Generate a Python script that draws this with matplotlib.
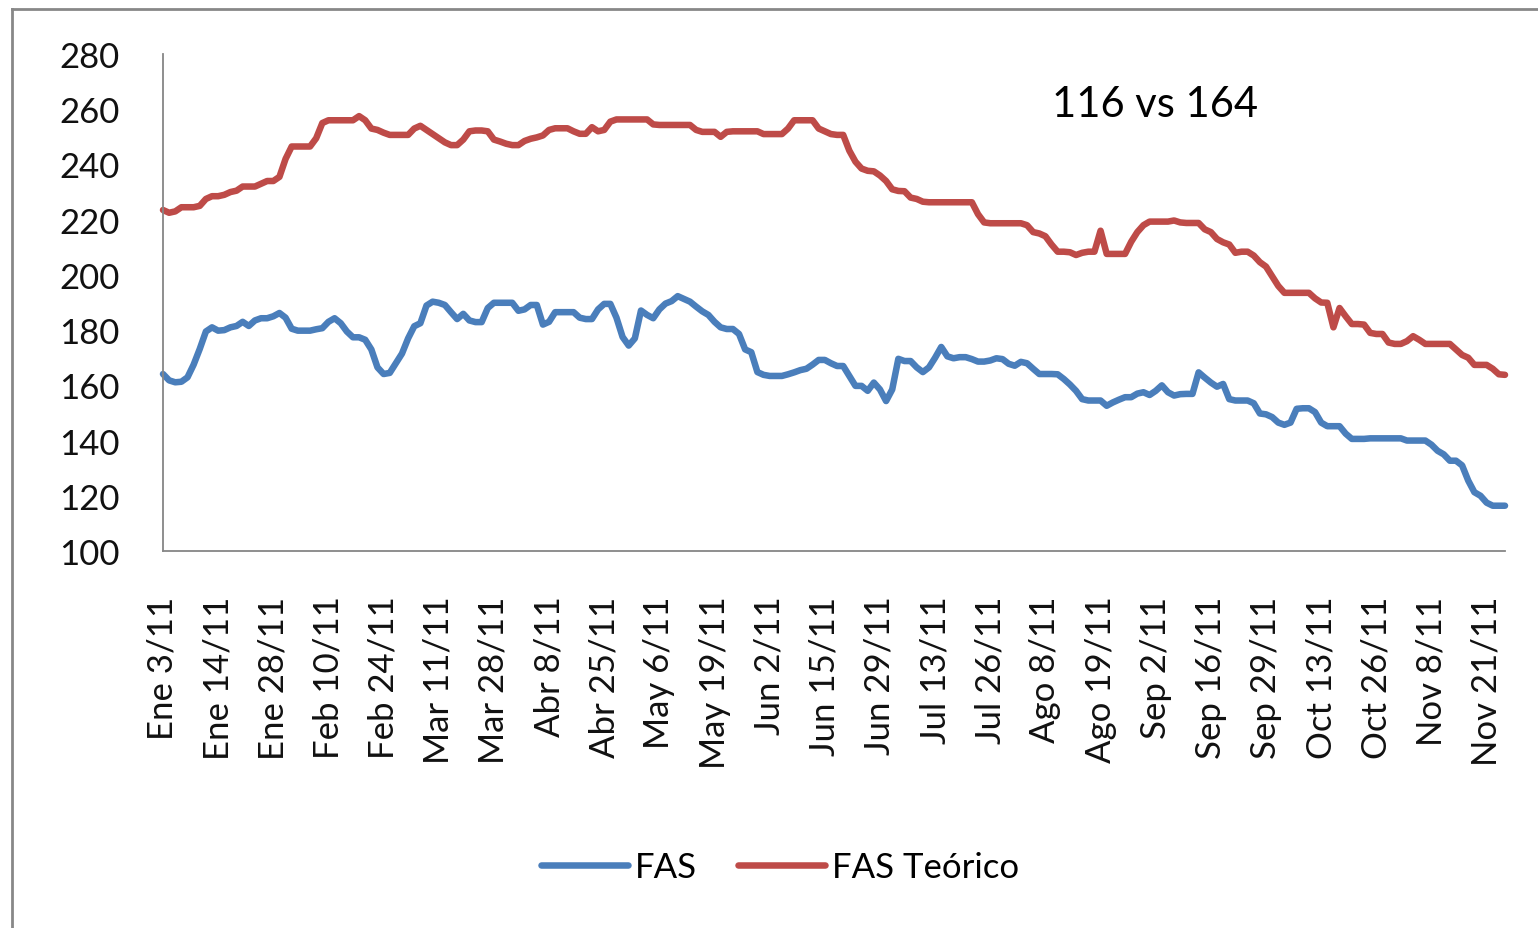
import matplotlib
matplotlib.use("Agg")
import matplotlib.pyplot as plt
from matplotlib.lines import Line2D

plt.rcParams['font.family'] = ['Lato', 'DejaVu Sans']

tick_labels = ["Ene 3/11", "Ene 14/11", "Ene 28/11", "Feb 10/11", "Feb 24/11",
               "Mar 11/11", "Mar 28/11", "Abr 8/11", "Abr 25/11", "May 6/11",
               "May 19/11", "Jun 2/11", "Jun 15/11", "Jun 29/11", "Jul 13/11",
               "Jul 26/11", "Ago 8/11", "Ago 19/11", "Sep 2/11", "Sep 16/11",
               "Sep 29/11", "Oct 13/11", "Oct 26/11", "Nov 8/11", "Nov 21/11"]

fas = [
    164.1, 161.8, 161.1, 161.3, 162.9, 167.5, 173.2, 179.5, 181.0,
    179.8, 180.0, 181.0, 181.5, 183.0, 181.5, 183.5, 184.3, 184.3,
    185.0, 186.2, 184.5, 180.5, 179.8, 179.8, 179.8, 180.3, 180.7,
    183.0, 184.3, 182.5, 179.5, 177.4, 177.4, 176.5, 173.0, 166.5,
    164.1, 164.5, 168.0, 171.5, 177.0, 181.4, 182.5, 188.9, 190.3,
    189.9, 189.1, 186.5, 184.0, 185.9, 183.5, 182.9, 182.9, 188.0,
    189.9, 189.9, 189.9, 189.9, 187.0, 187.5, 189.1, 189.1, 182.0,
    183.0, 186.5, 186.5, 186.5, 186.5, 184.5, 184.0, 184.0, 187.5,
    189.5, 189.5, 184.5, 177.5, 174.4, 177.0, 187.1, 185.5, 184.3,
    187.5, 189.6, 190.5, 192.3, 191.3, 190.3, 188.5, 186.8, 185.5,
    183.0, 181.0, 180.4, 180.4, 178.6, 173.0, 172.0, 164.8, 163.8,
    163.4, 163.4, 163.4, 164.0, 164.7, 165.5, 166.0, 167.5, 169.2,
    169.2, 168.0, 167.0, 167.0, 163.4, 159.8, 159.8, 158.0, 161.0,
    158.5, 154.3, 158.5, 169.6, 168.8, 168.8, 166.5, 164.8, 166.5,
    170.0, 173.9, 170.5, 169.8, 170.2, 170.2, 169.5, 168.6, 168.6,
    169.0, 169.8, 169.5, 167.8, 167.1, 168.5, 168.0, 166.0, 164.1,
    164.1, 164.1, 164.0, 162.3, 160.3, 158.0, 155.0, 154.5, 154.5,
    154.5, 152.6, 153.8, 154.8, 155.7, 155.7, 157.0, 157.5, 156.5,
    158.0, 160.0, 157.5, 156.3, 156.8, 156.9, 156.9, 164.7, 162.8,
    161.0, 159.5, 160.5, 155.0, 154.5, 154.5, 154.5, 153.5, 149.8,
    149.5, 148.5, 146.5, 145.7, 146.5, 151.5, 151.7, 151.7, 150.3,
    146.5, 145.2, 145.2, 145.2, 142.5, 140.6, 140.6, 140.6, 140.8,
    140.8, 140.8, 140.8, 140.8, 140.8, 140.0, 140.0, 140.0, 140.0,
    138.5, 136.3, 135.0, 132.7, 132.7, 131.0, 125.5, 121.3, 120.0,
    117.5, 116.4, 116.4, 116.4,
]

fas_teorico = [
    223.5, 222.5, 223.0, 224.5, 224.5, 224.5, 225.0, 227.5, 228.5,
    228.5, 229.0, 230.0, 230.5, 232.0, 232.0, 232.0, 233.0, 234.0,
    234.0, 235.5, 242.0, 246.5, 246.5, 246.5, 246.5, 249.5, 255.0,
    256.0, 256.0, 256.0, 256.0, 256.0, 257.5, 256.0, 253.0, 252.5,
    251.5, 250.7, 250.7, 250.7, 250.7, 253.0, 254.0, 252.5, 251.0,
    249.5, 248.0, 247.0, 247.0, 249.0, 252.0, 252.3, 252.3, 252.0,
    249.0, 248.3, 247.5, 247.0, 247.0, 248.5, 249.3, 249.8, 250.5,
    252.5, 253.1, 253.1, 253.1, 252.0, 251.1, 251.1, 253.5, 252.0,
    252.5, 255.5, 256.3, 256.3, 256.3, 256.3, 256.3, 256.3, 254.5,
    254.3, 254.3, 254.3, 254.3, 254.3, 254.3, 252.5, 251.8, 251.8,
    251.8, 250.0, 251.8, 252.0, 252.0, 252.0, 252.0, 252.0, 251.0,
    251.0, 251.0, 251.0, 253.0, 256.0, 256.0, 256.0, 256.0, 253.0,
    252.0, 251.0, 250.7, 250.7, 245.0, 241.0, 238.5, 237.7, 237.5,
    236.0, 234.0, 231.0, 230.4, 230.3, 228.0, 227.5, 226.5, 226.3,
    226.3, 226.3, 226.3, 226.3, 226.3, 226.3, 226.3, 222.0, 219.0,
    218.7, 218.7, 218.7, 218.7, 218.7, 218.7, 218.0, 215.5, 215.0,
    214.0, 211.0, 208.4, 208.4, 208.2, 207.2, 208.0, 208.4, 208.4,
    216.0, 207.6, 207.6, 207.6, 207.6, 212.0, 215.5, 218.0, 219.3,
    219.3, 219.3, 219.3, 219.7, 219.0, 218.8, 218.8, 218.8, 216.5,
    215.5, 213.0, 211.8, 211.0, 208.0, 208.4, 208.4, 207.0, 204.6,
    203.0, 199.5, 196.0, 193.5, 193.5, 193.5, 193.5, 193.5, 191.5,
    190.0, 189.9, 181.0, 188.0, 185.0, 182.2, 182.2, 182.0, 179.0,
    178.6, 178.6, 175.5, 175.0, 175.0, 176.0, 177.8, 176.5, 175.0,
    175.0, 175.0, 175.0, 175.0, 173.0, 171.0, 170.0, 167.4, 167.4,
    167.4, 166.0, 164.0, 163.8,
]

W, H = 1538, 929
fig = plt.figure(figsize=(W / 100, H / 100), dpi=100)
fig.patch.set_facecolor('white')

ax = fig.add_axes([163 / W, 1 - 552 / H, (1505 - 163) / W, (552 - 55) / H])

x = list(range(len(fas)))
lw = 4.7
ax.plot(x, fas, color='#4A7EBB', lw=lw, solid_joinstyle='round',
        solid_capstyle='round', label='FAS', clip_on=False)
ax.plot(x, fas_teorico, color='#BE4B48', lw=lw, solid_joinstyle='round',
        solid_capstyle='round', label='FAS Teórico', clip_on=False)

ax.set_xlim(0, len(fas) - 1)
ax.set_ylim(100, 280)
ax.set_yticks(range(100, 281, 20))
ax.set_xticks(range(0, 9 * len(tick_labels), 9))
ax.set_xticklabels(tick_labels, rotation=90)

for s in ['top', 'right']:
    ax.spines[s].set_visible(False)
for s in ['left', 'bottom']:
    ax.spines[s].set_color('#868686')
    ax.spines[s].set_linewidth(1.3)

ax.tick_params(axis='both', length=0, labelsize=25, colors='#111111')
ax.tick_params(axis='y', pad=31)
ax.tick_params(axis='x', pad=32)

fig.text(1052 / W, 1 - 105 / H, "116 vs 164", fontsize=30, ha='left', va='center')

fig.legend(loc='center', bbox_to_anchor=(780 / W, 1 - 868 / H), ncol=2,
           frameon=False, fontsize=25, handlelength=2.5, handletextpad=0.2,
           columnspacing=1.2)

# chart area border (partially cropped)
fig.add_artist(Line2D([12 / W, 12 / W], [0, 1 - 10 / H], color='#888888', lw=2.0,
                      transform=fig.transFigure))
fig.add_artist(Line2D([12 / W, 1], [1 - 10 / H, 1 - 10 / H], color='#888888', lw=2.0,
                      transform=fig.transFigure))

fig.savefig('out.png', dpi=100)
